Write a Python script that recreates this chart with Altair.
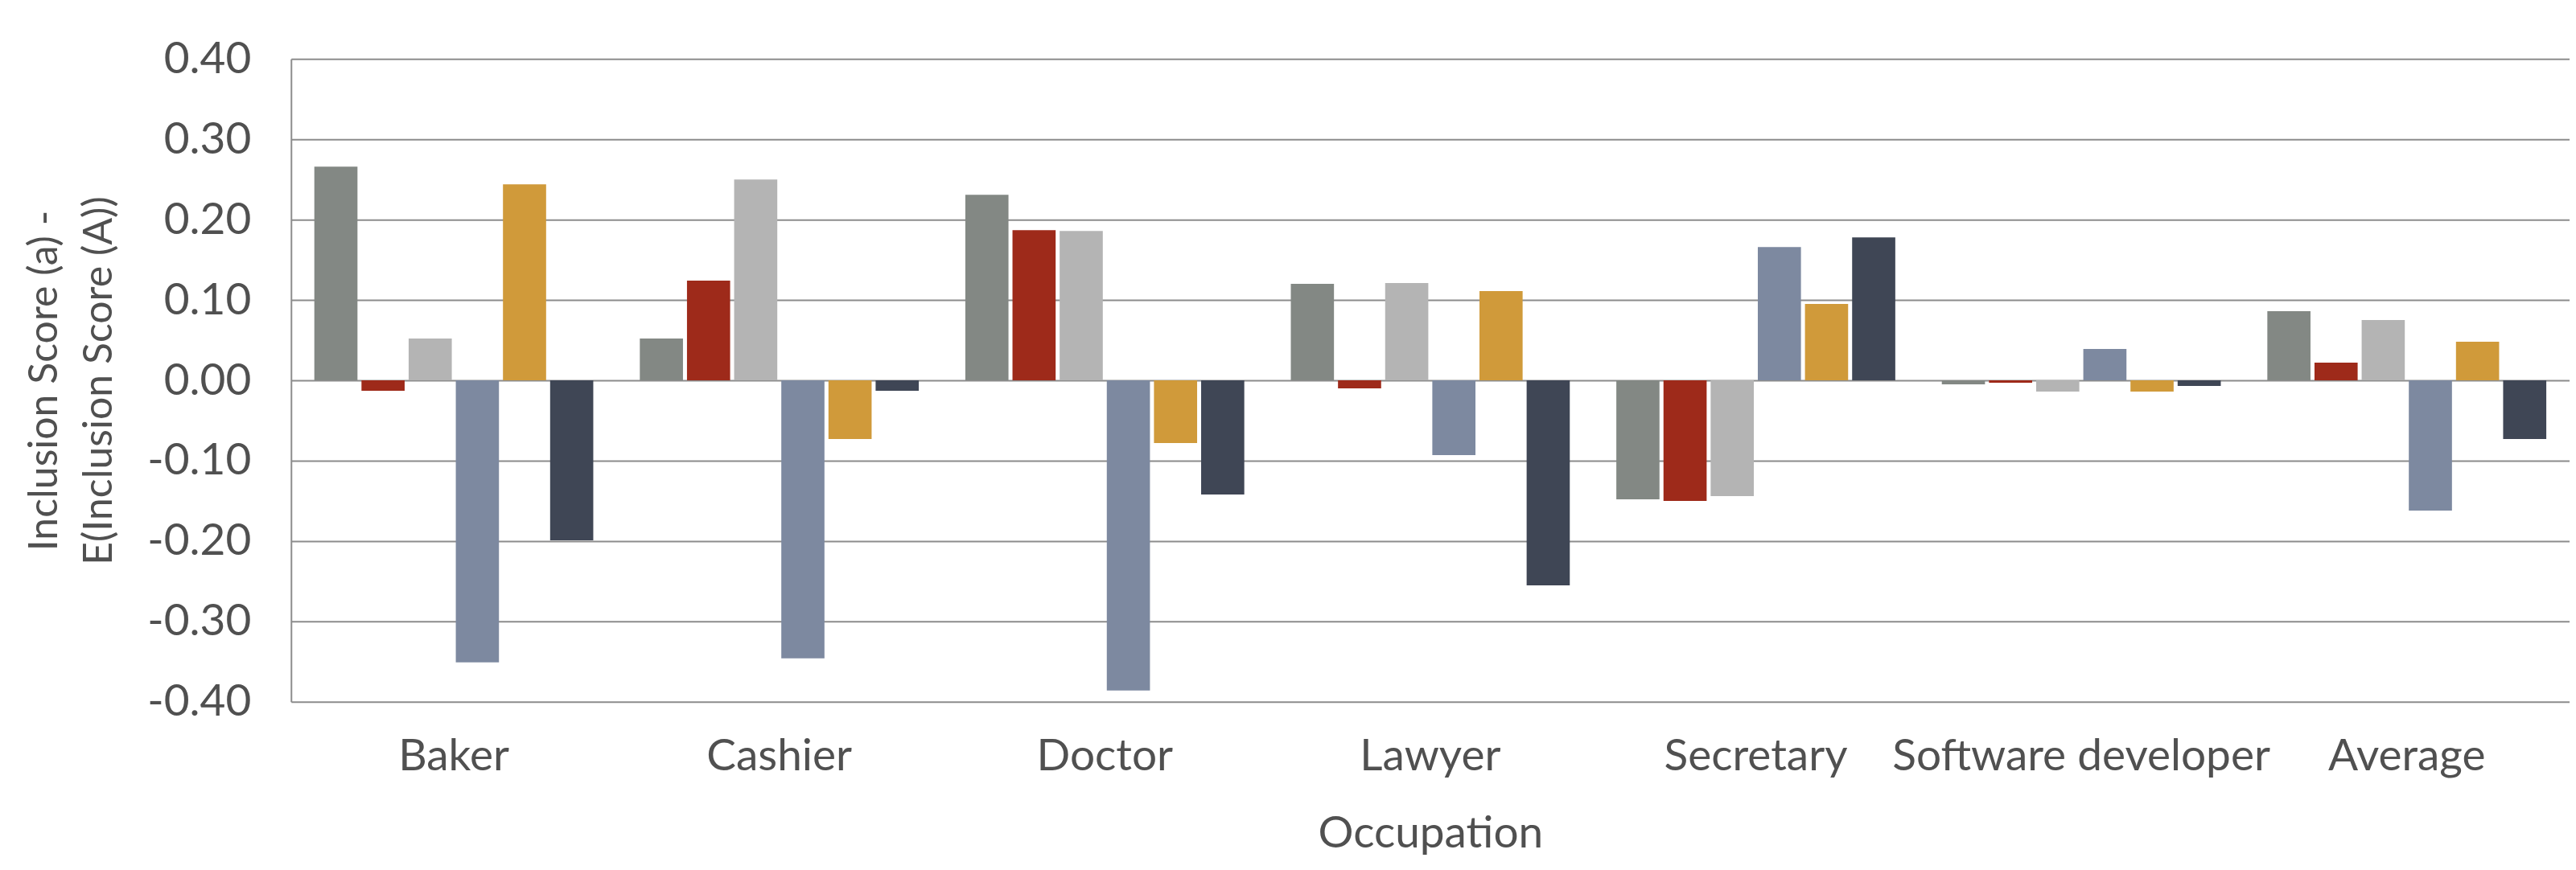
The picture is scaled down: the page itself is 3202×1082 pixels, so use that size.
import altair as alt
import pandas as pd

occupations = ["Baker", "Cashier", "Doctor", "Lawyer", "Secretary", "Software developer", "Average"]
series = ["S1", "S2", "S3", "S4", "S5", "S6"]
colors = ["#838884", "#9E2A1A", "#B4B4B4", "#7D89A0", "#D09A3A", "#3F4655"]

s1 = [0.266, 0.052, 0.231, 0.120, -0.148, -0.005, 0.086]
s2 = [-0.013, 0.124, 0.187, -0.010, -0.150, -0.003, 0.022]
s3 = [0.052, 0.250, 0.186, 0.121, -0.144, -0.014, 0.075]
s4 = [-0.351, -0.346, -0.386, -0.093, 0.166, 0.039, -0.162]
s5 = [0.244, -0.073, -0.078, 0.111, 0.095, -0.014, 0.048]
s6 = [-0.199, -0.013, -0.142, -0.255, 0.178, -0.007, -0.073]

rows = []
for name, vals in zip(series, [s1, s2, s3, s4, s5, s6]):
    for occ, v in zip(occupations, vals):
        rows.append({"occupation": occ, "series": name, "value": v})
df = pd.DataFrame(rows)

FONT = "Lato"
TXT = "#505050"
GRID = "#8C8C8C"

chart = alt.Chart(df).mark_bar().encode(
    x=alt.X(
        "occupation:N",
        sort=occupations,
        scale=alt.Scale(paddingInner=0.143, paddingOuter=0.0715),
        axis=alt.Axis(
            title="Occupation",
            labelAngle=0,
            ticks=False,
            domain=False,
            labelPadding=42,
            titlePadding=42,
            labelLimit=0,
        ),
    ),
    xOffset=alt.XOffset(
        "series:N",
        sort=series,
        scale=alt.Scale(paddingInner=0.085, paddingOuter=0),
    ),
    y=alt.Y(
        "value:Q",
        scale=alt.Scale(domain=[-0.4, 0.4], nice=False),
        axis=alt.Axis(
            title=["Inclusion Score (a) -", "E(Inclusion Score (A))"],
            values=[-0.4, -0.3, -0.2, -0.1, 0.0, 0.1, 0.2, 0.3, 0.4],
            labelExpr="replace(format(datum.value, '.2f'), '\u2212', '-')",
            ticks=False,
            labelPadding=50,
            titlePadding=34,
            domain=True,
            titleFontSize=50,
        ),
    ),
    color=alt.Color(
        "series:N",
        sort=series,
        scale=alt.Scale(domain=series, range=colors),
        legend=None,
    ),
).properties(
    width=2834,
    height=800,
    padding={"top": 38, "left": 22, "right": 0, "bottom": 5},
).configure_view(
    stroke=None
).configure_axis(
    labelFont=FONT,
    titleFont=FONT,
    labelFontSize=55,
    titleFontSize=55,
    labelColor=TXT,
    titleColor=TXT,
    titleFontWeight="normal",
    gridColor=GRID,
    gridWidth=2,
    gridOpacity=1,
    domainColor=GRID,
    domainWidth=2,
).configure_axisY(
    grid=True,
    titleLineHeight=68,
).configure_axisX(
    grid=False,
)

chart.save("out.html", embed_options={"renderer": "svg", "actions": False})
